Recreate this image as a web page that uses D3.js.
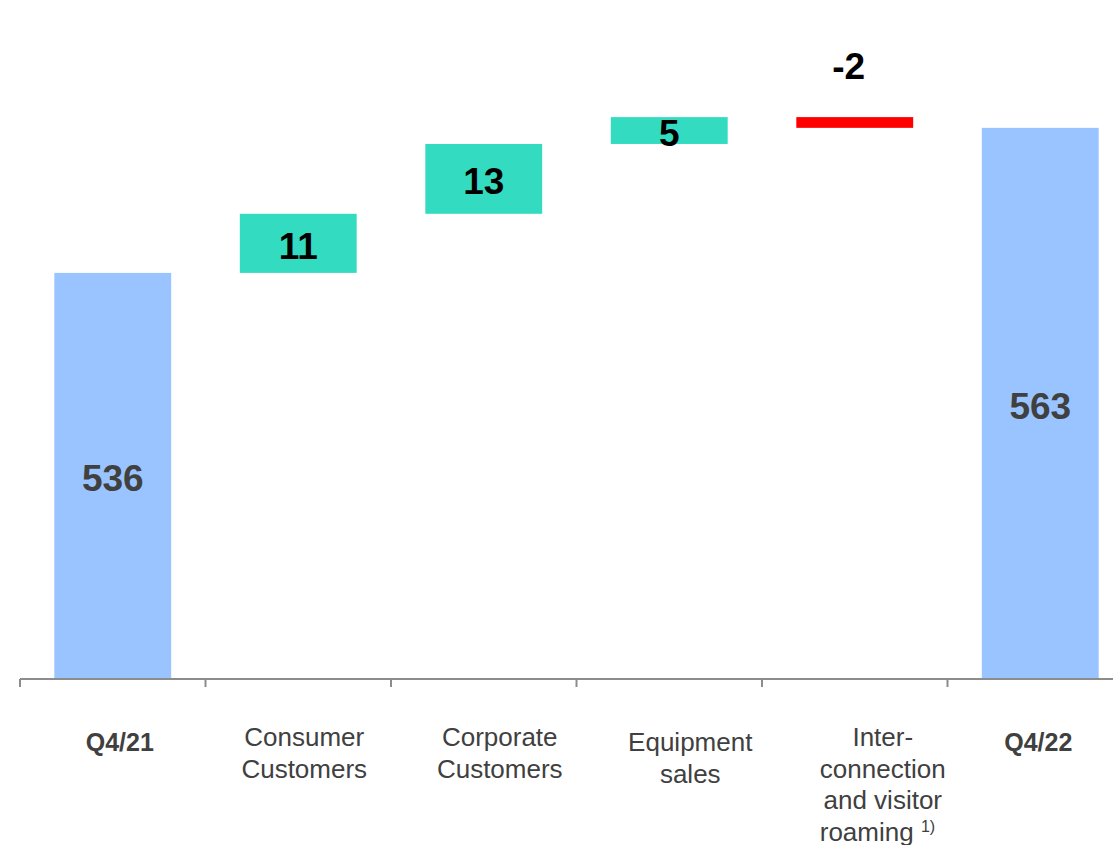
<!DOCTYPE html>
<html>
<head>
<meta charset="utf-8">
<script src="https://cdn.jsdelivr.net/npm/d3@7"></script>
<style>
  body { margin: 0; background: #fff; }
  svg { display: block; font-family: "Liberation Sans", Arial, sans-serif; }
</style>
</head>
<body>
<div id="chart"></div>
<script>
// waterfall data
const categories = ["Q4/21", "Consumer Customers", "Corporate Customers", "Equipment sales", "Inter-connection and visitor roaming", "Q4/22"];
const labelLines = [["Q4/21"], ["Consumer", "Customers"], ["Corporate", "Customers"], ["Equipment", "sales"], ["Inter-", "connection", "and visitor", "roaming"], ["Q4/22"]];
const kinds = ["total", "delta", "delta", "delta", "delta", "total"];
const values = [536, 11, 13, 5, -2, 563];

const width = 1113, height = 845;
const baseY = 679;

const svg = d3.select("#chart").append("svg")
    .attr("width", width)
    .attr("height", height);

// axis is broken: bars start around 460
const y = d3.scaleLinear()
    .domain([460.4, 586.8])
    .range([baseY, 0]);

const x = d3.scaleBand()
    .domain(categories)
    .range([20, 1133])
    .paddingInner(0.37)
    .paddingOuter(0.185);

// build running totals
let running = 0;
const bars = categories.map((c, i) => {
    const v = values[i];
    let lo, hi;
    if (kinds[i] === "total") {
        lo = y.domain()[0]; hi = v; running = v;
    } else {
        lo = Math.min(running, running + v);
        hi = Math.max(running, running + v);
        running += v;
    }
    return { cat: c, value: v, kind: kinds[i], lo: lo, hi: hi, lines: labelLines[i] };
});

const fill = d => d.kind === "total" ? "#99c4ff" : (d.value < 0 ? "#ff0000" : "#33dcc0");

svg.append("g").selectAll("rect")
    .data(bars)
    .join("rect")
    .attr("x", d => x(d.cat))
    .attr("y", d => y(d.hi))
    .attr("width", x.bandwidth())
    .attr("height", d => d.kind === "total" ? y(d.lo) - y(d.hi) + 1 : y(d.lo) - y(d.hi))
    .attr("fill", fill);

// axis line with ticks at band boundaries
const axis = svg.append("g").attr("stroke", "#8c8c8c").attr("stroke-width", 2);
axis.append("line")
    .attr("x1", 20).attr("x2", width)
    .attr("y1", baseY).attr("y2", baseY);
categories.forEach(c => {
    const tx = x(c) - x.step() * x.paddingOuter();
    axis.append("line")
        .attr("x1", tx).attr("x2", tx)
        .attr("y1", baseY).attr("y2", baseY + 8);
});

// value labels
svg.append("g").selectAll("text")
    .data(bars)
    .join("text")
    .attr("x", d => x(d.cat) + x.bandwidth() / 2 + (d.value < 0 ? -6 : 0))
    .attr("y", d => {
        if (d.value < 0) return y(d.hi) - 38;
        return (y(d.hi) + y(d.lo)) / 2 + 3;
    })
    .attr("dominant-baseline", d => d.value < 0 ? "auto" : "central")
    .attr("text-anchor", "middle")
    .attr("font-size", "37px")
    .attr("font-weight", "bold")
    .attr("fill", d => d.kind === "total" ? "#404040" : "#000")
    .text(d => d.value);

// category labels (text boxes sit a bit off the bar centres)
const shiftX = [7, 6, 16, 21, 28, -2];
const shiftY = [5, 0, 0, 5, 0, 5];
const lab = svg.append("g")
    .attr("fill", "#404040")
    .attr("text-anchor", "middle");
bars.forEach((d, i) => {
    const cx = x(d.cat) + x.bandwidth() / 2 + shiftX[i];
    d.lines.forEach((ln, j) => {
        const t = lab.append("text")
            .attr("x", cx)
            .attr("y", 737 + shiftY[i] + j * 31.7)
            .attr("dominant-baseline", "central")
            .attr("font-weight", d.kind === "total" ? "bold" : "normal")
            .attr("font-size", d.kind === "total" ? "25px" : "26px");
        if (ln === "roaming") {
            t.attr("text-anchor", "start").attr("x", cx - 63);
            t.append("tspan").text(ln + " ");
            t.append("tspan").attr("font-size", "16px").attr("dy", -6).text("1)");
        } else {
            t.text(ln);
        }
    });
});
</script>
</body>
</html>
